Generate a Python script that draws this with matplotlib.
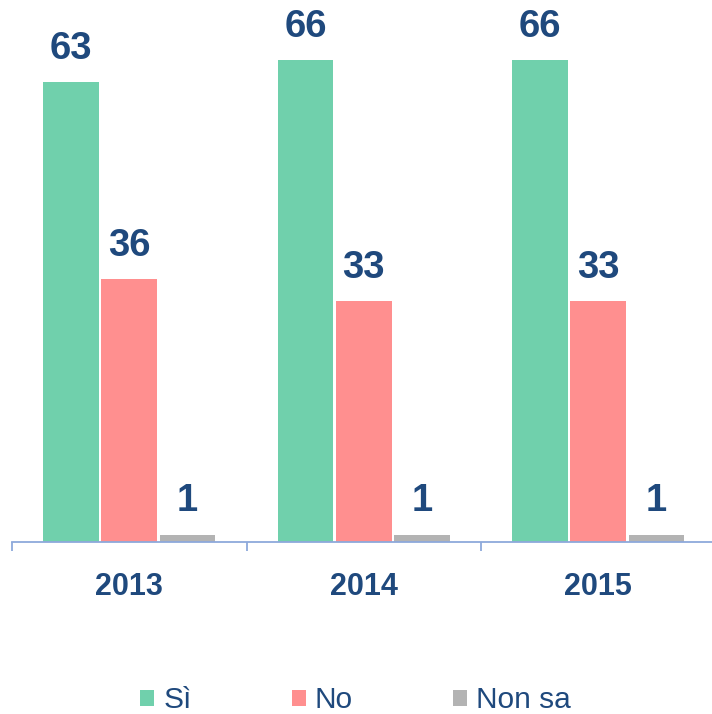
import numpy as np
import matplotlib.pyplot as plt

# dati
anni = ['2013', '2014', '2015']
si = [63, 66, 66]
no = [36, 33, 33]
non_sa = [1, 1, 1]

serie = ['Sì', 'No', 'Non sa']
colori = ['#70D0AC', '#FF8F8F', '#B3B3B3']
blu = '#1F497D'

plt.rcParams['font.family'] = ['Liberation Sans', 'DejaVu Sans']

fig = plt.figure(figsize=(7.12, 7.14), dpi=100)
ax = fig.add_axes([12/712, 172/714, 703.5/712, 511/714])

x = np.arange(len(anni))
passo = 0.248
larg = 0.238

barre = []
for k, (val, col) in enumerate(zip([si, no, non_sa], colori)):
    b = ax.bar(x + (k - 1) * passo, val, larg, color=col, label=serie[k], zorder=2)
    barre.append(b)
    ax.bar_label(b, padding=11, fontsize=27.5, fontweight='bold', color=blu)

ax.set_xlim(-0.5, 2.5)
ax.set_ylim(0, 70)

for s in ['left', 'top', 'right']:
    ax.spines[s].set_visible(False)
ax.spines['bottom'].set_color('#8EA9DB')
ax.spines['bottom'].set_linewidth(1.3)
ax.set_yticks([])

# tacche ai bordi dei gruppi, etichette al centro
ax.set_xticks([-0.5, 0.5, 1.5, 2.5])
ax.set_xticklabels([])
ax.tick_params(axis='x', which='major', length=6.5, width=1.3, color='#8EA9DB', direction='out')
ax.set_xticks(x, minor=True)
ax.set_xticklabels(anni, minor=True, fontsize=22, fontweight='bold', color=blu)
ax.tick_params(axis='x', which='minor', length=0, pad=21.5)

fig.legend(handles=barre, labels=serie, loc='center', bbox_to_anchor=(0.499, 0.019),
           ncol=3, frameon=False, fontsize=21.5, labelcolor=blu,
           handlelength=0.47, handleheight=0.47, handletextpad=0.3, columnspacing=3.35)

plt.savefig('out.png', dpi=100)
